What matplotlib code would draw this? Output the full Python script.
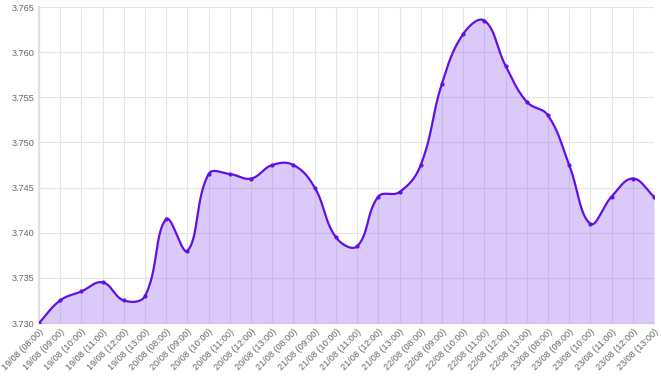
import numpy as np
import matplotlib
matplotlib.use("Agg")
import matplotlib.pyplot as plt

days = ["19/08", "20/08", "21/08", "22/08", "23/08"]
hours = ["08:00", "09:00", "10:00", "11:00", "12:00", "13:00"]
labels = [f"{d} ({h})" for d in days for h in hours]

values = [3.7300, 3.7325, 3.7335, 3.7345, 3.7325, 3.7330,
          3.7415, 3.7380, 3.7465, 3.7465, 3.7460, 3.7475,
          3.7475, 3.7450, 3.7395, 3.7385, 3.7440, 3.7445,
          3.7475, 3.7565, 3.7620, 3.7635, 3.7585, 3.7545,
          3.7530, 3.7475, 3.7410, 3.7440, 3.7460, 3.7440]

line_col = "#6210e6"
fill_col = "#8a52ee"

# smooth curve like chart.js (bezier, tension 0.4) in pixel-ish space
px_x = 21.2
px_y = 45.1 / 0.005
x = np.arange(len(values), dtype=float)
y = np.array(values)
X = x * px_x
Y = y * px_y
t = 0.4
n = len(X)
cp_prev = np.zeros((n, 2))
cp_next = np.zeros((n, 2))
for i in range(n):
    p1 = np.array([X[i], Y[i]])
    p0 = np.array([X[i - 1], Y[i - 1]]) if i > 0 else p1
    p2 = np.array([X[i + 1], Y[i + 1]]) if i < n - 1 else p1
    d01 = np.hypot(*(p1 - p0))
    d12 = np.hypot(*(p2 - p1))
    tot = d01 + d12
    s01 = d01 / tot if tot else 0
    s12 = d12 / tot if tot else 0
    cp_prev[i] = p1 - t * s01 * (p2 - p0)
    cp_next[i] = p1 + t * s12 * (p2 - p0)

cx, cy = [], []
tt = np.linspace(0, 1, 30)
for i in range(n - 1):
    P0 = np.array([X[i], Y[i]])
    P1 = cp_next[i]
    P2 = cp_prev[i + 1]
    P3 = np.array([X[i + 1], Y[i + 1]])
    for u in tt[:-1] if i < n - 2 else tt:
        b = ((1 - u) ** 3) * P0 + 3 * ((1 - u) ** 2) * u * P1 + 3 * (1 - u) * u * u * P2 + u ** 3 * P3
        cx.append(b[0] / px_x)
        cy.append(b[1] / px_y)

fig = plt.figure(figsize=(6.61, 3.76), dpi=100)
ax = fig.add_axes([39 / 661, 1 - 323 / 376, (654 - 39) / 661, (323 - 7) / 376])

ax.fill_between(cx, cy, 3.730, color=fill_col, alpha=0.3, lw=0, zorder=3)
ax.plot(cx, cy, color=line_col, lw=1.6, zorder=4, solid_capstyle="round")
ax.plot(x, y, "o", color=line_col, ms=2.0, zorder=5)

ax.set_xlim(0, n - 1)
ax.set_ylim(3.730, 3.765)
ax.set_xticks(x)
ax.set_xticklabels(labels, rotation=45, ha="right", rotation_mode="anchor")
ax.set_yticks(np.arange(3.730, 3.7651, 0.005))
ax.set_yticklabels([f"{v:.3f}" for v in np.arange(3.730, 3.7651, 0.005)])

ax.grid(True, color="#e5e5e5", lw=0.8, zorder=0)
ax.set_axisbelow(True)
for s in ["top", "right"]:
    ax.spines[s].set_visible(False)
ax.spines["left"].set_color("#e0e0e0")
ax.spines["left"].set_linewidth(1.5)
ax.spines["bottom"].set_color("#e0e0e0")
ax.spines["bottom"].set_linewidth(1.0)
ax.tick_params(axis="both", length=0, labelsize=6.6, colors="#666666", pad=3)
for lbl in ax.get_xticklabels() + ax.get_yticklabels():
    lbl.set_family("Liberation Sans")

fig.savefig("out.png", dpi=100)
